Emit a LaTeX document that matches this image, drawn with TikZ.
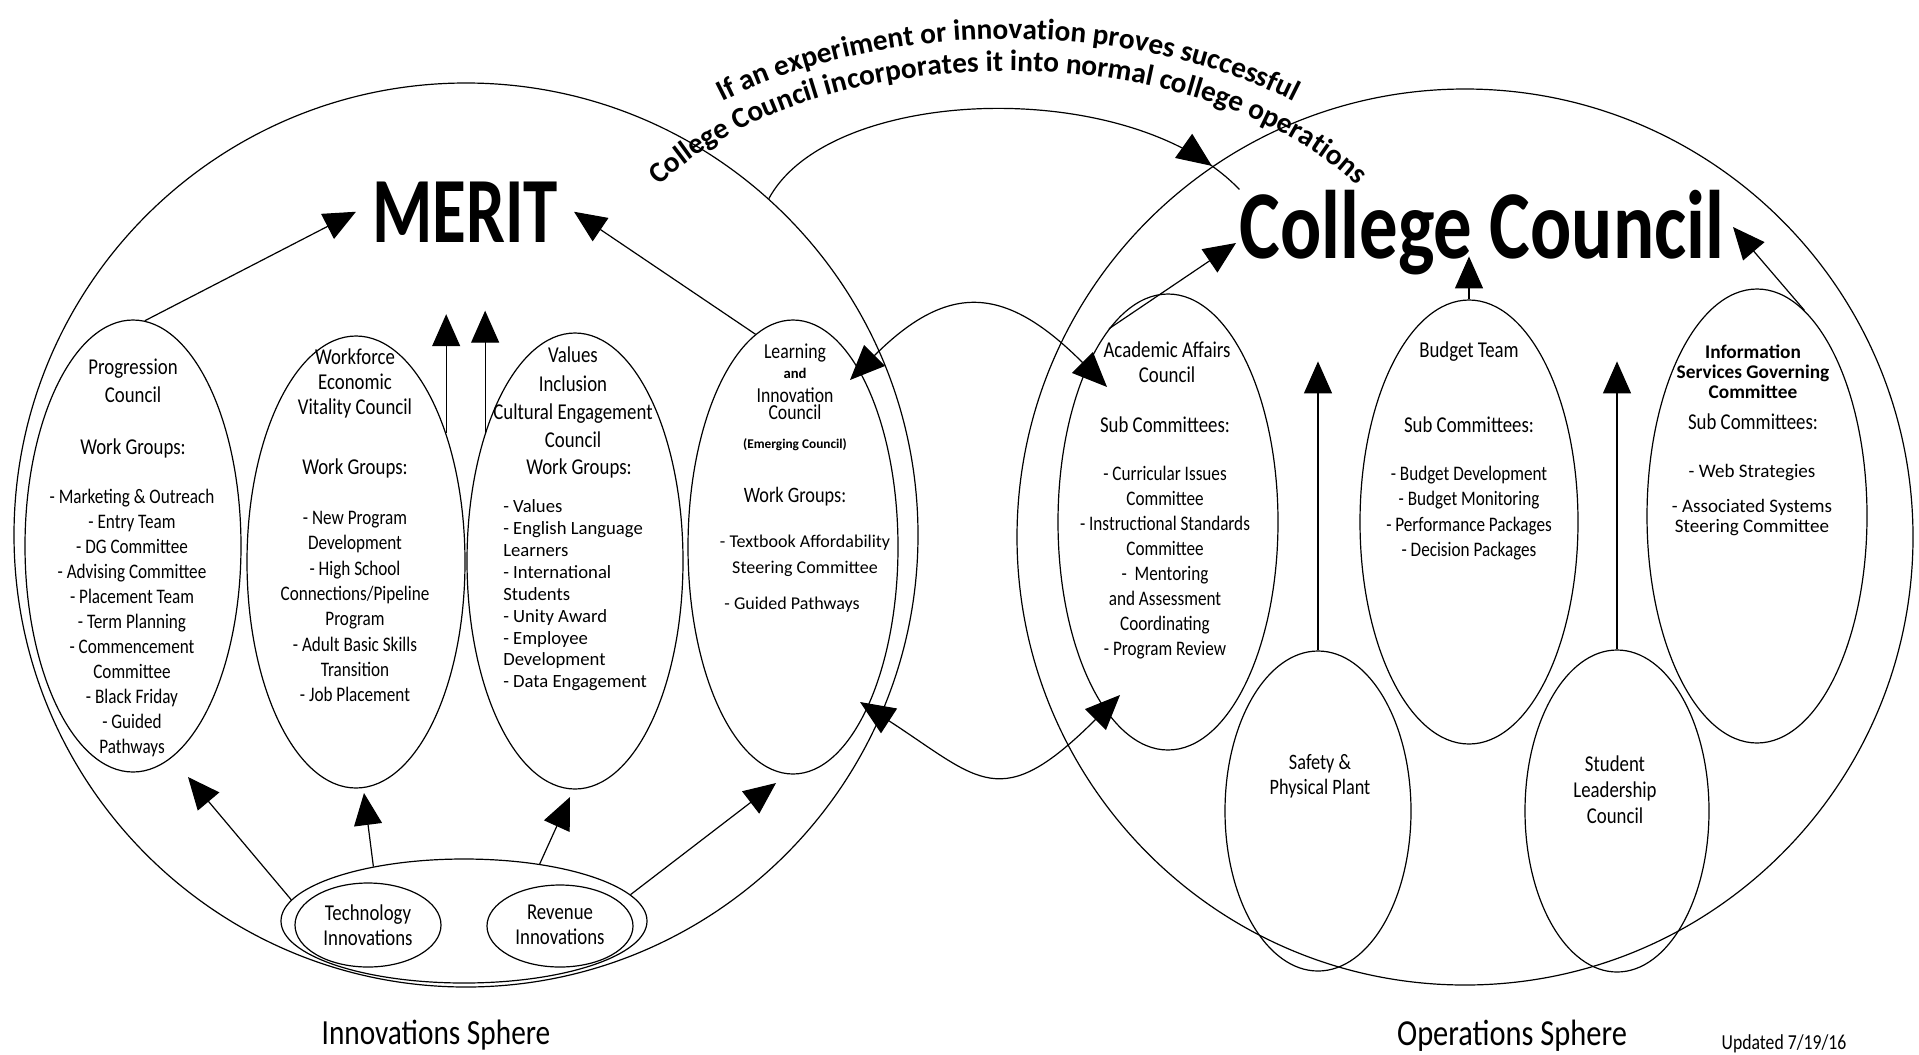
\documentclass[tikz,border=0pt]{standalone}
\usepackage{fontspec}
\setmainfont{Carlito}
\newfontfamily\cf{Carlito}[FakeStretch=0.83]
\newfontfamily\tf{Carlito}[FakeStretch=0.74]
\newfontfamily\tfc{Carlito}[FakeStretch=0.79]
\usetikzlibrary{arrows.meta,shapes.geometric,decorations.text,decorations.markings}

\begin{document}
\begin{tikzpicture}[x=0.75pt,y=0.75pt,
  ln/.style={line width=0.9pt},
  ell/.style={draw, ellipse, line width=0.9pt, inner sep=0pt},
  arr/.style={line width=0.9pt, -{Triangle[length=24pt,width=21pt]}},
  darr/.style={line width=0.9pt, {Triangle[length=26pt,width=22pt]}-{Triangle[length=26pt,width=22pt]}},
  hd/.style={font=\cf\fontsize{17}{21}\selectfont, align=center, inner sep=0pt},
  lst/.style={font=\cf\fontsize{15.5}{18.75}\selectfont, align=center, inner sep=0pt},
  plain/.style={inner sep=0pt, align=center},
]
\useasboundingbox (0,0) rectangle (1919,-1054);
\fill[white] (0,0) rectangle (1919,-1054);

% spheres
\node[draw, circle, line width=0.9pt, inner sep=0pt, minimum size=678pt] (leftC) at (466,-535) {};
\node[draw, circle, line width=0.9pt, inner sep=0pt, minimum size=672pt] (rightC) at (1465,-537) {};

% left ellipses
\node[ell, minimum width=162pt, minimum height=339pt] (prog) at (133,-546) {};
\node[ell, minimum width=163.5pt, minimum height=339pt] (work) at (356,-562) {};
\node[ell, minimum width=162pt, minimum height=342pt] (vals) at (575,-561) {};
\node[ell, minimum width=157.5pt, minimum height=340.5pt] (learn) at (793,-547) {};
\node[ell, fill=white, minimum width=274.5pt, minimum height=93pt] (inno) at (464,-921) {};
\node[ell, minimum width=109.5pt, minimum height=63pt] (tech) at (368,-925) {};
\node[ell, minimum width=109.5pt, minimum height=61.5pt] (rev) at (560,-926) {};

% right ellipses
\node[ell, minimum width=165pt, minimum height=342pt] (acad) at (1168,-522) {};
\node[ell, minimum width=163.5pt, minimum height=333pt] (budget) at (1469,-522) {};
\node[ell, minimum width=165pt, minimum height=340.5pt] (info) at (1757,-516) {};
\node[ell, minimum width=139.5pt, minimum height=240pt] (safety) at (1318,-811) {};
\node[ell, minimum width=138pt, minimum height=241.5pt] (student) at (1617,-811) {};

% titles
\node[font=\tf\bfseries\fontsize{70}{70}\selectfont, inner ysep=0pt, inner xsep=12pt, anchor=base] (merit) at (465,-242) {MERIT};
\node[font=\tfc\bfseries\fontsize{73}{73}\selectfont, inner sep=0pt, anchor=base] (cc) at (1482,-258) {College Council};

% curved text
\path[decorate, decoration={text along path, text align=center,
  text={|\bfseries\fontsize{22}{26}\selectfont|If an experiment or innovation proves successful}}]
  (574.7,-255.5) arc[start angle=170, end angle=10, x radius=440, y radius=262];
\path[decorate, decoration={text along path, text align=center,
  text={|\bfseries\fontsize{22}{26}\selectfont|College Council incorporates it into normal college operations}}]
  (609.2,-264.4) arc[start angle=170, end angle=10, x radius=405, y radius=234];

% big arc from innovations to College Council
\draw[ln, postaction={decorate}, decoration={markings, mark=at position 0.93 with {\arrow{Triangle[length=26pt,width=22pt]}}}]
  (leftC.48) .. controls (830,-85) and (1130,-75) .. (cc.north west);

% tip coordinates
\coordinate (lt) at (850,-380);
\coordinate (rt) at (1107,-387);
\coordinate (lb) at (860,-702);
\coordinate (rb) at (1120,-695);
\coordinate (t1) at (188,-777);
\coordinate (t2) at (364,-793);
\coordinate (t3) at (570,-797);
\coordinate (t4) at (776,-783);
\coordinate (ta) at (1236,-243);
\coordinate (ti) at (1733,-227);

% middle exchange arcs
\draw[darr] (lt) .. controls (950,-280) and (1007,-287) .. (rt);
\draw[darr] (lb) .. controls (980,-780) and (1000,-815) .. (rb);

% arrows to MERIT
\draw[arr] (prog.87) -- (merit.west);
\draw[arr] (learn.100) -- (merit.east);
\draw[arr] (work.55.6) -- ++(0,119);
\draw[arr] (vals.125.5) -- ++(0,122);

% arrows from innovations
\draw[arr] (inno.173.4) -- (t1);
\draw[arr] (inno.149.3) -- (t2);
\draw[arr] (inno.37) -- (t3);
\draw[arr] (inno.9) -- (t4);

% arrows to College Council
\draw[arr] (acad.107.4) -- (ta);
\draw[arr] (budget.north) -- ++(0,43);
\draw[arr] (info.77.7) -- (ti);
\draw[arr] (safety.north) -- ++(0,289);
\draw[arr] (student.north) -- ++(0,288);

% Progression
\node[hd] (progH) at (133,-381) {Progression\\Council};
\node[hd] (progW) at (133,-448) {Work Groups:};
\node[lst] (progL) at (132,-622.5) {- Marketing \& Outreach\\- Entry Team\\- DG Committee\\- Advising Committee\\- Placement Team\\- Term Planning\\- Commencement\\Committee\\- Black Friday\\- Guided\\Pathways};

% Workforce
\node[hd, font=\cf\fontsize{17}{18.75}\selectfont] (workH) at (355,-383) {Workforce\\Economic\\Vitality Council};
\node[hd] (workW) at (355,-468) {Work Groups:};
\node[lst, font=\cf\fontsize{15.5}{19}\selectfont] (workL) at (355,-606.5) {- New Program\\Development\\- High School\\Connections/Pipeline\\Program\\- Adult Basic Skills\\Transition\\- Job Placement};

% Values
\node[hd, font=\cf\fontsize{17}{21.25}\selectfont] (valsH) at (573,-397.5) {Values\\Inclusion\\Cultural Engagement\\Council};
\node[hd] (valsW) at (579,-468) {Work Groups:};
\node[plain, align=left, anchor=west, font=\fontsize{14}{16.4}\selectfont] (valsL) at (503,-595.5) {- Values\\- English Language\\Learners\\- International\\Students\\- Unity Award\\- Employee\\Development\\- Data Engagement};

% Learning
\node[hd, font=\cf\fontsize{16}{16}\selectfont] (learnH1) at (795,-353) {Learning};
\node[plain, font=\bfseries\fontsize{11}{11}\selectfont] (learnH2) at (795,-373) {and};
\node[hd, font=\cf\fontsize{16}{12.75}\selectfont] (learnH3) at (795,-403.5) {Innovation\\Council};
\node[plain, font=\bfseries\fontsize{10}{10}\selectfont] (learnE) at (795,-445) {(Emerging Council)};
\node[hd, font=\cf\fontsize{16.5}{16.5}\selectfont] (learnW) at (795,-497) {Work Groups:};
\node[plain, font=\fontsize{13.5}{19.5}\selectfont] (learnL1) at (805,-556) {- Textbook Affordability\\Steering Committee};
\node[plain, font=\fontsize{13.5}{16}\selectfont] (learnL2) at (792,-605) {- Guided Pathways};

% Academic Affairs
\node[hd, font=\cf\fontsize{17}{18.75}\selectfont] (acadH) at (1167,-362.5) {Academic Affairs\\Council};
\node[hd] (acadS) at (1165,-425) {Sub Committees:};
\node[lst] (acadL) at (1165,-562.5) {- Curricular Issues\\Committee\\- Instructional Standards\\Committee\\-~~Mentoring\\and Assessment\\Coordinating\\- Program Review};

% Budget
\node[hd] (budH) at (1469,-352) {Budget Team};
\node[hd] (budS) at (1469,-425) {Sub Committees:};
\node[lst, font=\cf\fontsize{15.5}{19}\selectfont] (budL) at (1469,-513) {- Budget Development\\- Budget Monitoring\\- Performance Packages\\- Decision Packages};

% Information Services
\node[plain, font=\bfseries\fontsize{14.5}{15}\selectfont] (infoH) at (1753,-372) {Information\\Services Governing\\Committee};
\node[hd] (infoS) at (1753,-422) {Sub Committees:};
\node[plain, font=\fontsize{14.3}{15}\selectfont] (infoL1) at (1752,-473) {- Web Strategies};
\node[plain, font=\fontsize{14.3}{15}\selectfont] (infoL2) at (1752,-518) {- Associated Systems\\Steering Committee};

% small councils
\node[hd, font=\cf\fontsize{16.5}{18.75}\selectfont] (safT) at (1320,-776.5) {Safety \&\\Physical Plant};
\node[hd, font=\cf\fontsize{17}{19.5}\selectfont] (stuT) at (1615,-790) {Student\\Leadership\\Council};
\node[hd, font=\cf\fontsize{17}{18.75}\selectfont] (techT) at (368,-925.5) {Technology\\Innovations};
\node[hd, font=\cf\fontsize{17}{18.75}\selectfont] (revT) at (560,-925) {Revenue\\Innovations};

% bottom labels
\node[plain, font=\cf\fontsize{26.5}{26.5}\selectfont] (isph) at (436,-1035) {Innovations Sphere};
\node[plain, font=\cf\fontsize{27.5}{27.5}\selectfont] (osph) at (1512,-1036) {Operations Sphere};
\node[plain, font=\cf\fontsize{16}{16}\selectfont] (upd) at (1784,-1044) {Updated 7/19/16};
\end{tikzpicture}
\end{document}
